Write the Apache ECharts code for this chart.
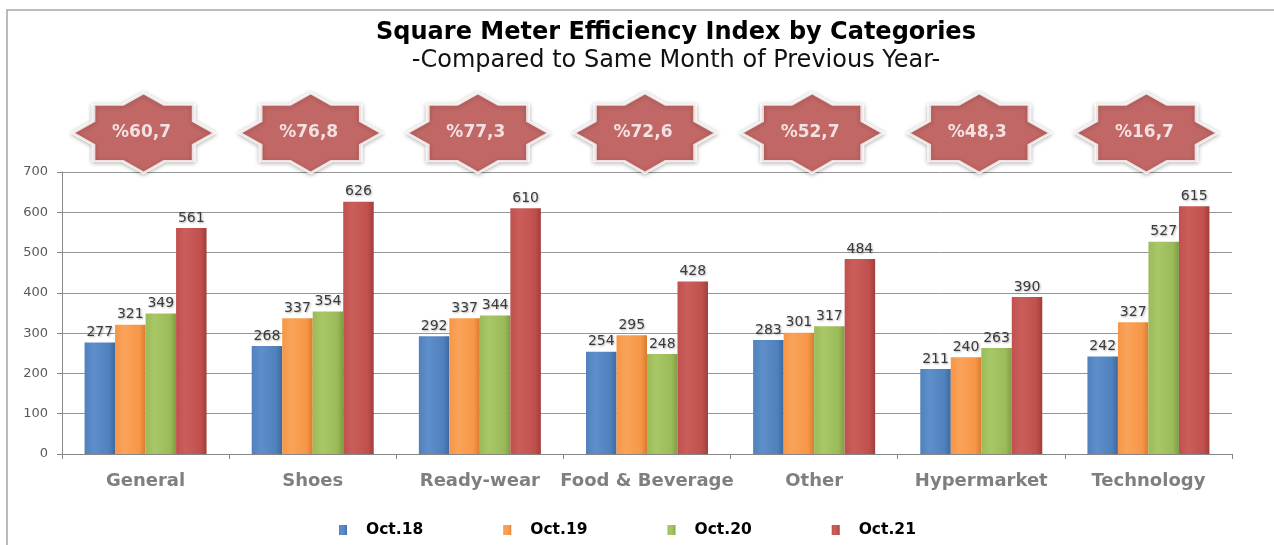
<!DOCTYPE html>
<html>
<head>
<meta charset="utf-8">
<script src="https://cdn.jsdelivr.net/npm/echarts@6/dist/echarts.min.js"></script>
<style>
  html, body { margin: 0; padding: 0; background: #fff; }
  #main { width: 1274px; height: 545px; }
</style>
</head>
<body>
<div id="main"></div>
<script>
// categories and values
var categories = ['General', 'Shoes', 'Ready-wear', 'Food & Beverage', 'Other', 'Hypermarket', 'Technology'];
var oct18 = [277, 268, 292, 254, 283, 211, 242];
var oct19 = [321, 337, 337, 295, 301, 240, 327];
var oct20 = [349, 354, 344, 248, 317, 263, 527];
var oct21 = [561, 626, 610, 428, 484, 390, 615];
var growth = ['%60,7', '%76,8', '%77,3', '%72,6', '%52,7', '%48,3', '%16,7'];
var yTicks = [0, 100, 200, 300, 400, 500, 600, 700];

var FONT = 'DejaVu Sans';
var STAR_LEVEL = 797; // badges sit above the 700 line, in axis units
// 8 point star (two overlapped squares)
var STAR = 'path://M100 0 L129.3 29.3 L170.7 29.3 L170.7 70.7 L200 100 L170.7 129.3 L170.7 170.7 L129.3 170.7 L100 200 L70.7 170.7 L29.3 170.7 L29.3 129.3 L0 100 L29.3 70.7 L29.3 29.3 L70.7 29.3 Z';

function barColor(light, mid, dark) {
  return new echarts.graphic.LinearGradient(0, 0, 1, 0, [
    { offset: 0, color: mid },
    { offset: 0.3, color: light },
    { offset: 0.8, color: mid },
    { offset: 1, color: dark }
  ]);
}

function barSeries(name, data, color) {
  return {
    name: name,
    type: 'bar',
    data: data,
    barGap: '0%',
    barCategoryGap: '27%',
    itemStyle: { color: color },
    label: {
      show: true,
      position: 'top',
      distance: 3,
      fontFamily: FONT,
      fontSize: 14,
      color: '#3a3a3a',
      textShadowColor: 'rgba(0,0,0,0.3)',
      textShadowBlur: 2,
      textShadowOffsetX: 1,
      textShadowOffsetY: 1
    }
  };
}

var myChart = echarts.init(document.getElementById('main'));

myChart.setOption({
  backgroundColor: '#fff',
  animation: false,
  title: {
    text: 'Square Meter Efficiency Index by Categories',
    subtext: '-Compared to Same Month of Previous Year-',
    left: 671,
    textAlign: 'center',
    top: 16,
    itemGap: 4,
    textStyle: { fontFamily: FONT, fontSize: 24, fontWeight: 'bold', color: '#000' },
    subtextStyle: { fontFamily: FONT, fontSize: 24, color: '#111' }
  },
  graphic: [
    {
      type: 'polyline',
      shape: { points: [[7, 600], [7, 10], [1290, 10]] },
      style: { stroke: '#a6a6a6', lineWidth: 1.5, fill: null }
    }
  ],
  legend: {
    data: ['Oct.18', 'Oct.19', 'Oct.20', 'Oct.21'],
    left: 334,
    top: 517,
    itemWidth: 8,
    itemHeight: 10,
    itemGap: 80,
    icon: 'rect',
    textStyle: {
      fontFamily: FONT,
      fontSize: 15.5,
      fontWeight: 'bold',
      color: '#000',
      padding: [2, 0, 0, 14]
    }
  },
  grid: {
    left: 62,
    right: 42,
    top: 172,
    bottom: 91
  },
  xAxis: {
    type: 'category',
    data: categories,
    axisLine: { lineStyle: { color: '#868686', width: 1 } },
    axisTick: { show: true, length: 5, lineStyle: { color: '#868686' } },
    axisLabel: {
      interval: 0,
      margin: 18,
      fontFamily: FONT,
      fontSize: 18,
      fontWeight: 'bold',
      color: '#7f7f7f'
    }
  },
  yAxis: {
    type: 'value',
    min: yTicks[0],
    max: yTicks[yTicks.length - 1],
    interval: 100,
    axisLine: { show: true, lineStyle: { color: '#868686' } },
    axisTick: { show: true, length: 5, lineStyle: { color: '#868686' } },
    axisLabel: { margin: 14, fontFamily: FONT, fontSize: 13, color: '#595959' },
    splitLine: { lineStyle: { color: '#969696', width: 1 } }
  },
  series: [
    barSeries('Oct.18', oct18, barColor('#5f8fcb', '#4f81bd', '#3d68a0')),
    barSeries('Oct.19', oct19, barColor('#f9a35a', '#f79646', '#d87c30')),
    barSeries('Oct.20', oct20, barColor('#a8c767', '#9bbb59', '#7f9c44')),
    barSeries('Oct.21', oct21, barColor('#ca5e5b', '#c0504d', '#a13e3b')),
    {
      name: 'growth',
      type: 'scatter',
      clip: false,
      silent: true,
      z: 5,
      symbol: STAR,
      symbolSize: [142, 80],
      symbolOffset: [-2, 0],
      data: categories.map(function (c, i) {
        return { name: growth[i], value: [c, STAR_LEVEL] };
      }),
      itemStyle: {
        color: '#c0504d',
        borderColor: '#ffffff',
        borderWidth: 3,
        shadowColor: 'rgba(0,0,0,0.3)',
        shadowBlur: 4,
        shadowOffsetY: 1
      },
      label: {
        show: true,
        position: 'inside',
        offset: [-2, 0],
        formatter: '{b}',
        fontFamily: FONT,
        fontSize: 17,
        fontWeight: 'bold',
        color: '#fff'
      }
    }
  ]
});
</script>
</body>
</html>
